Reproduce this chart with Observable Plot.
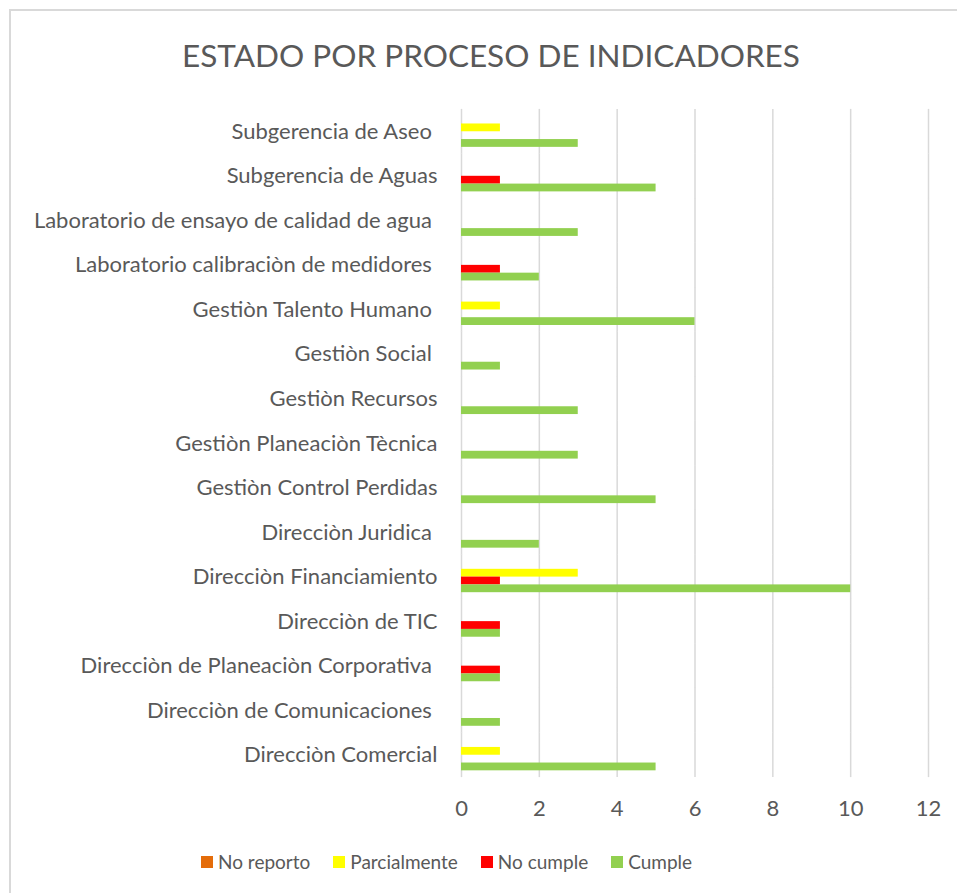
<!DOCTYPE html>
<html>
<head>
<meta charset="utf-8">
<script src="https://cdn.jsdelivr.net/npm/d3@7"></script>
<script src="https://cdn.jsdelivr.net/npm/@observablehq/plot@0.6"></script>
<style>
  html, body { margin: 0; padding: 0; background: #fff; }
  #wrap { position: relative; width: 957px; height: 893px; overflow: hidden; font-family: Lato, "Open Sans", sans-serif; color: #595959; }
  #frame { position: absolute; left: 9px; top: 9px; width: 970px; height: 900px; border: 2px solid #d9d9d9; box-sizing: border-box; }
  #title { position: absolute; left: 10px; width: 962px; top: 33px; text-align: center; font-size: 31.5px; line-height: 44px; }
  #chart { position: absolute; left: 0; top: 90px; }
  #legend { position: absolute; left: 201px; top: 849px; display: flex; align-items: center; font-size: 19px; line-height: 26px; }
  .item { display: flex; align-items: center; margin-right: 23px; }
  .sw { width: 12px; height: 12px; margin-right: 5px; }
</style>
</head>
<body>
<div id="wrap">
  <div id="frame"></div>
  <div id="title">ESTADO POR PROCESO DE INDICADORES</div>
  <div id="chart"></div>
  <div id="legend"></div>
</div>
<script>
const categories = [
  "Subgerencia de Aseo ",
  "Subgerencia de Aguas",
  "Laboratorio de ensayo de calidad de agua ",
  "Laboratorio calibraciòn de medidores ",
  "Gestiòn Talento Humano ",
  "Gestiòn Social ",
  "Gestiòn Recursos",
  "Gestiòn Planeaciòn Tècnica",
  "Gestiòn Control Perdidas",
  "Direcciòn Juridica ",
  "Direcciòn Financiamiento",
  "Direcciòn de TIC",
  "Direcciòn de Planeaciòn Corporativa ",
  "Direcciòn de Comunicaciones ",
  "Direcciòn Comercial"
];
const seriesNames = ["No reporto", "Parcialmente", "No cumple", "Cumple"];
const seriesColors = ["#e46c0a", "#ffff00", "#ff0000", "#92d050"];
const noReporto    = [0, 0, 0, 0, 0, 0, 0, 0, 0, 0, 0, 0, 0, 0, 0];
const parcialmente = [1, 0, 0, 0, 1, 0, 0, 0, 0, 0, 3, 0, 0, 0, 1];
const noCumple     = [0, 1, 0, 1, 0, 0, 0, 0, 0, 0, 1, 1, 1, 0, 0];
const cumple       = [3, 5, 3, 2, 6, 1, 3, 3, 5, 2, 10, 1, 1, 1, 5];
const xTicks = [0, 2, 4, 6, 8, 10, 12];

const seriesValues = [noReporto, parcialmente, noCumple, cumple];
const rows = [];
categories.forEach((c, i) => {
  seriesNames.forEach((s, j) => rows.push({cat: c, series: s, value: seriesValues[j][i]}));
});

const chart = Plot.plot({
  width: 957,
  height: 760,
  marginLeft: 461,
  marginRight: 29,
  marginTop: 19,
  marginBottom: 73,
  style: {fontFamily: "Lato, 'Open Sans', sans-serif", fontSize: "22px", color: "#595959", background: "transparent", overflow: "visible"},
  x: {domain: [0, 12], ticks: xTicks, tickSize: 0, tickPadding: 30, label: null, axis: "bottom"},
  y: {domain: seriesNames, axis: null, padding: 0, round: false},
  fy: {domain: categories, paddingInner: 0.3, paddingOuter: 0.15, round: false, axis: "left", tickSize: 0, tickPadding: 24, label: null,
       tickFormat: d => d.replace(/ $/, "\u00a0")},
  color: {domain: seriesNames, range: seriesColors},
  marks: [
    Plot.ruleX(xTicks, {stroke: "#d9d9d9", strokeWidth: 1.5, insetTop: -6.8, insetBottom: -6.8}),
    Plot.barX(rows, {x: "value", y: "series", fy: "cat", fill: "series", insetTop: 0, insetBottom: 0})
  ]
});
document.getElementById("chart").appendChild(chart);
d3.select(chart).selectAll('[aria-label^="x-axis"] text').style("font-size", "22px");

const legend = d3.select("#legend");
seriesNames.forEach((s, i) => {
  const it = legend.append("div").attr("class", "item");
  it.append("div").attr("class", "sw").style("background", seriesColors[i]);
  it.append("span").text(s);
});
</script>
</body>
</html>
